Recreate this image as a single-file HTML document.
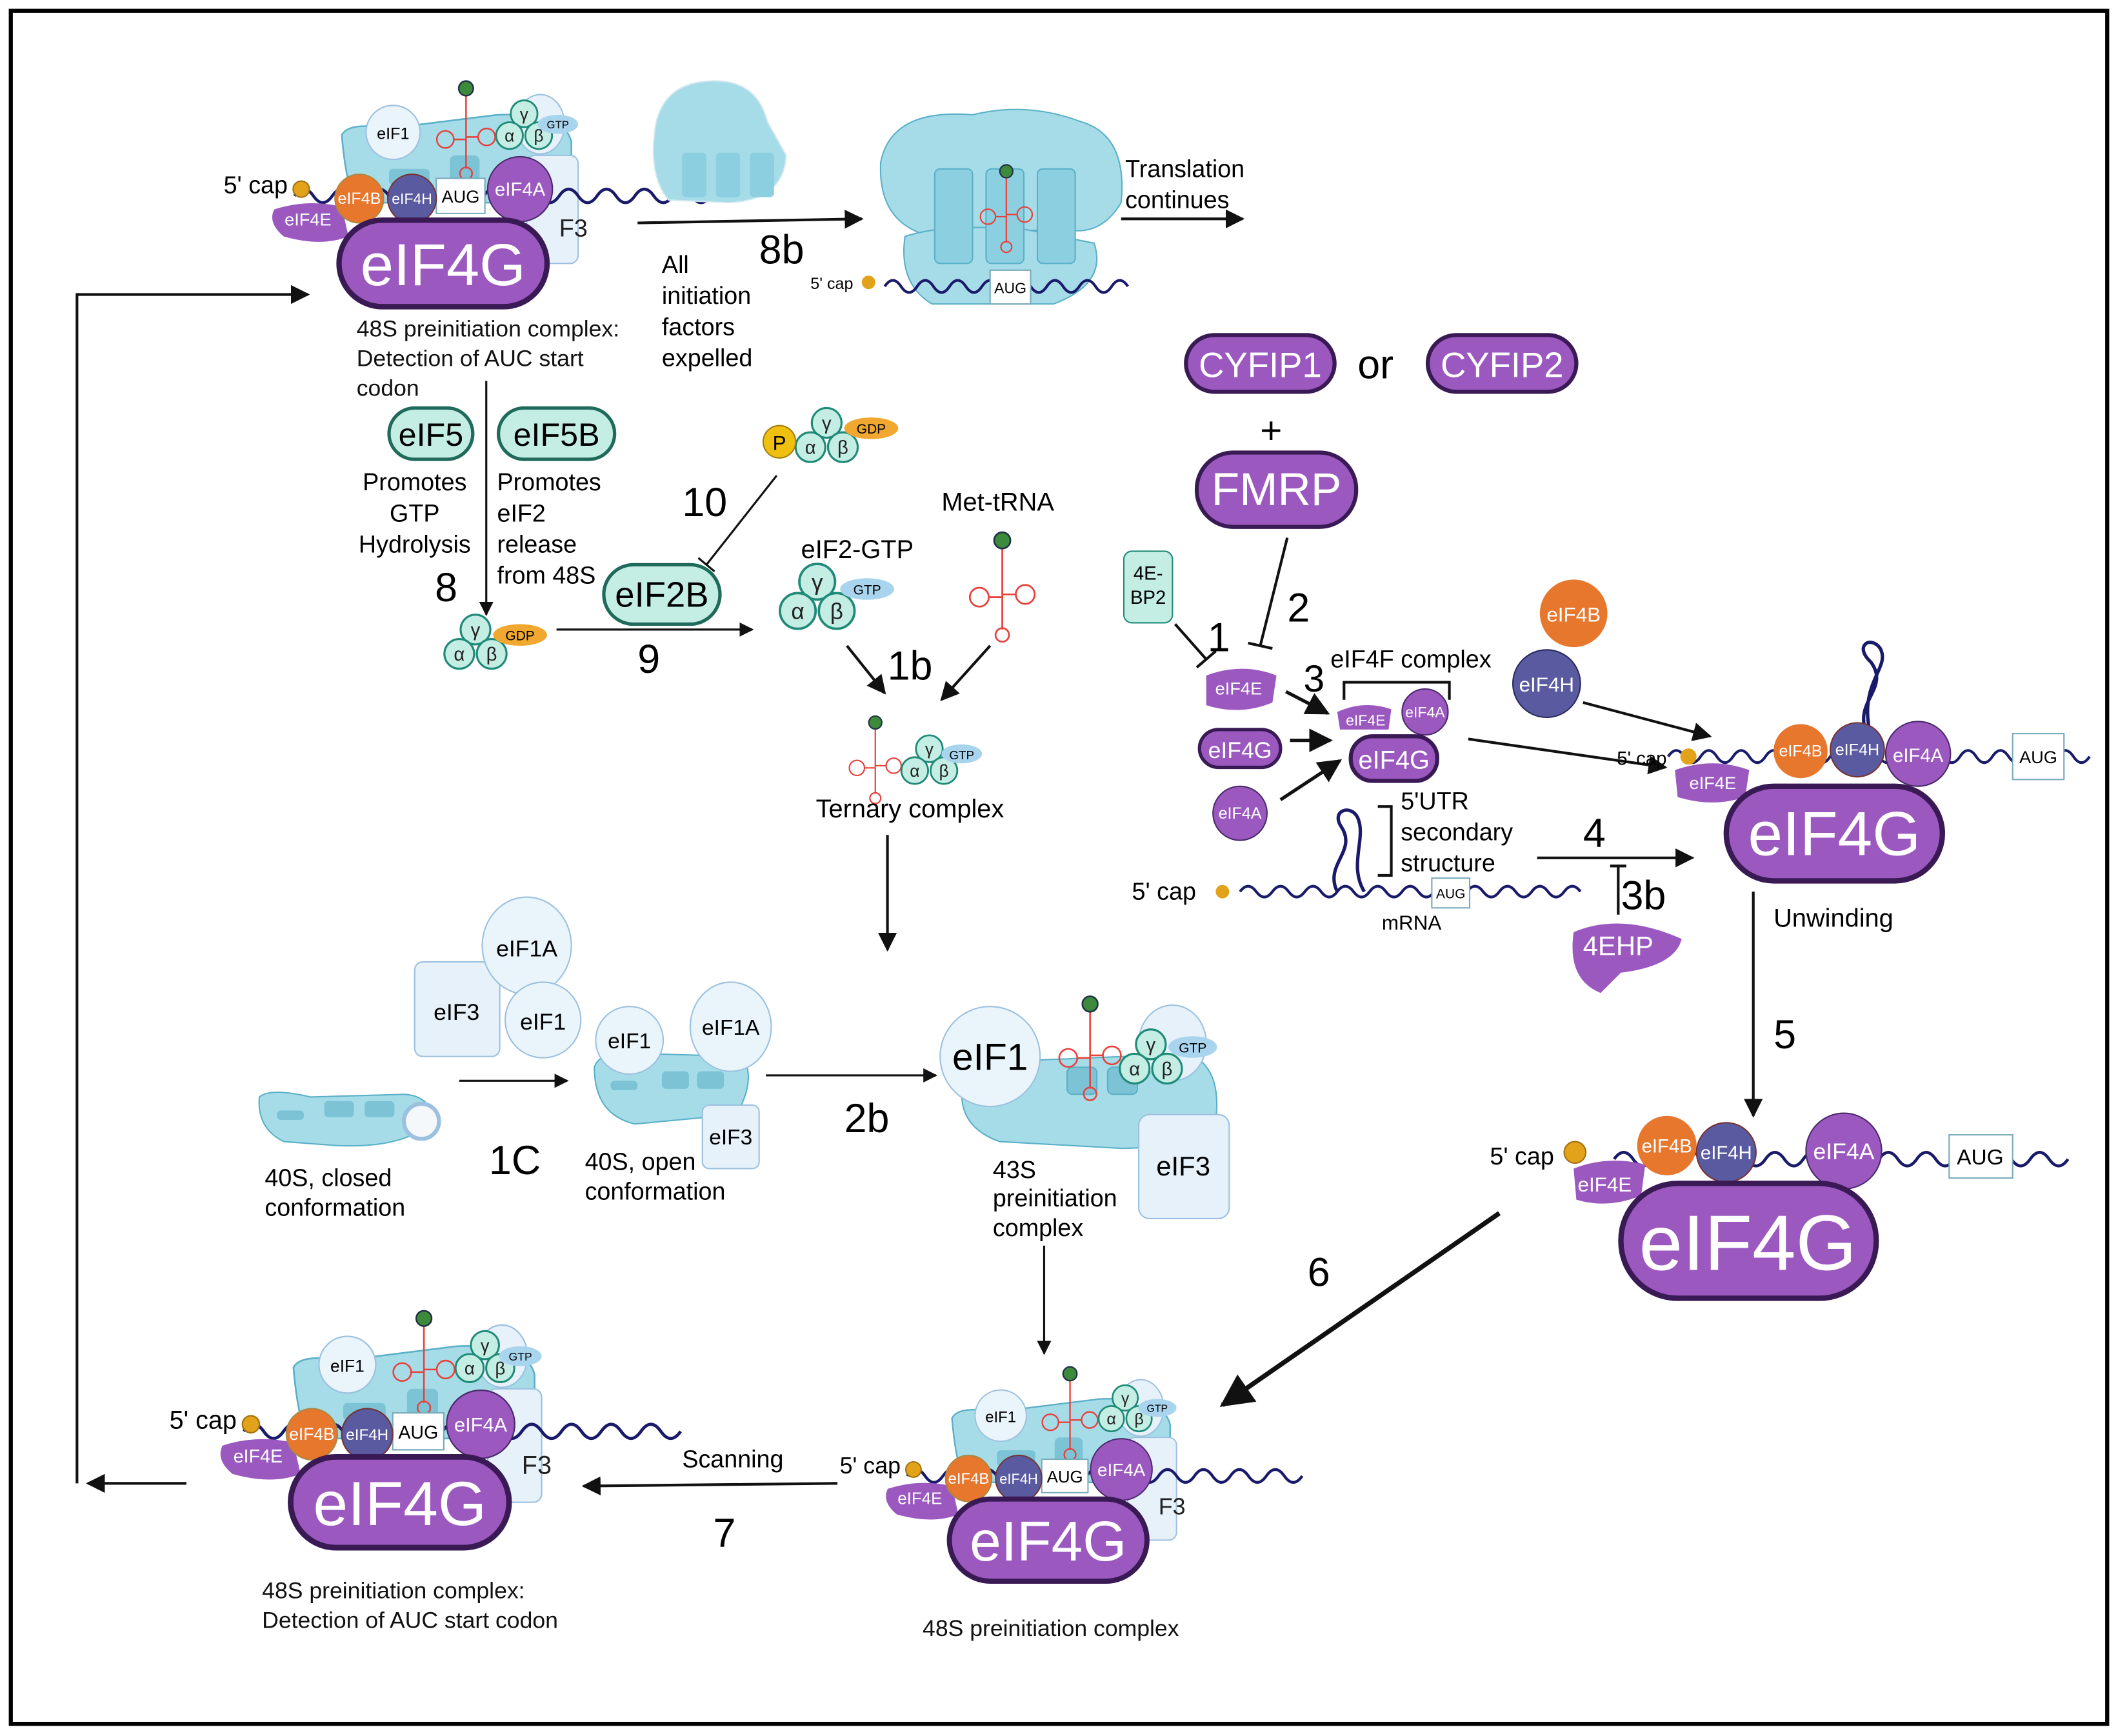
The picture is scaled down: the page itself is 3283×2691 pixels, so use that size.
<!DOCTYPE html>
<html><head><meta charset="utf-8"><style>
html,body{margin:0;padding:0;background:#fff}
svg{display:block}
text{font-family:"Liberation Sans",sans-serif}
</style></head><body>
<svg width="3283" height="2691" viewBox="0 0 1568 1285" preserveAspectRatio="none" xmlns="http://www.w3.org/2000/svg">
<defs>
<marker id="ah" viewBox="0 0 10 10" refX="9" refY="5" markerWidth="7" markerHeight="7" orient="auto-start-reverse"><path d="M0,0 L10,5 L0,10 z" fill="#111"/></marker>
<g id="tern">
<circle cx="0" cy="-12" r="11" fill="#c4eee4" stroke="#1f8a77" stroke-width="1.5"/>
<circle cx="-12" cy="6" r="11" fill="#c4eee4" stroke="#1f8a77" stroke-width="1.5"/>
<circle cx="12" cy="6" r="11" fill="#c4eee4" stroke="#1f8a77" stroke-width="1.5"/>
<text x="0" y="-7" font-size="14" text-anchor="middle" fill="#222">γ</text>
<text x="-12" y="11" font-size="14" text-anchor="middle" fill="#222">α</text>
<text x="12" y="11" font-size="14" text-anchor="middle" fill="#222">β</text>
</g>
<g id="trna" fill="none" stroke="#e8403a" stroke-width="1.3">
<line x1="0" y1="-38" x2="0" y2="22"/>
<circle cx="-17" cy="-2" r="7"/><circle cx="17" cy="-4" r="7"/>
<line x1="-10" y1="-2" x2="0" y2="-2"/><line x1="10" y1="-4" x2="0" y2="-4"/>
<circle cx="0" cy="26" r="5"/>
<circle cx="0" cy="-44" r="6" fill="#3d8a3d" stroke="#234"/>
</g>
<g id="c48">
<!-- ribosome -->
<path d="M-75,-95 Q-70,-105 -40,-100 L40,-110 Q90,-112 95,-90 L95,-45 L-65,-45 Q-72,-60 -75,-95 z" fill="#a6dce8" stroke="#5ab0c8" stroke-width="1.2"/>
<rect x="-40" y="-70" width="30" height="12" rx="3" fill="#7cc3d6"/>
<rect x="5" y="-80" width="22" height="25" rx="4" fill="#7cc3d6"/>
<rect x="62" y="-80" width="38" height="80" rx="6" fill="#e6f1fa" stroke="#9cc0e0"/>
<text x="86" y="-20" font-size="18" fill="#222">F3</text>
<ellipse cx="72" cy="-103" rx="18" ry="22" fill="#e6f1fa" stroke="#9cc0e0"/>
<circle cx="-37" cy="-97" r="20" fill="#eaf4fb" stroke="#9cc0e0"/>
<text x="-37" y="-92" font-size="12" text-anchor="middle">eIF1</text>
<use href="#trna" transform="translate(17,-90) scale(0.9)"/>
<use href="#tern" transform="translate(60,-100) scale(0.9)"/>
<ellipse cx="85" cy="-103" rx="15" ry="7" fill="#a9d4ee"/>
<text x="85" y="-100" font-size="8" text-anchor="middle">GTP</text>
<path d="M-110,-50 q7,-10 14,0 t14,0 t14,0 t14,0 t14,0 t14,0 t14,0 t14,0 t14,0 t14,0 t14,0 t14,0 t14,0 t14,0 t14,0 t14,0 t14,0 t14,0 t14,0 t14,0 t14,0 t14,0" fill="none" stroke="#1a1a6a" stroke-width="2.2"/>
<circle cx="-105" cy="-55" r="6" fill="#e2a21a" stroke="#a07010"/>
<text x="-115" y="-52" font-size="18" text-anchor="end">5' cap</text>
<path d="M-125,-40 Q-100,-48 -75,-42 L-70,-20 Q-90,-12 -118,-20 Q-130,-30 -125,-40 z" fill="#9b59c0"/>
<text x="-100" y="-28" font-size="13" fill="#fff" text-anchor="middle">eIF4E</text>
<path d="M-5,-63 h36 v26 h-36 z" fill="#fff" stroke="#7ab"/>
<text x="13" y="-45" font-size="13" text-anchor="middle">AUG</text>
<circle cx="-62" cy="-48" r="18" fill="#e8772e" stroke="#a84"/>
<text x="-62" y="-44" font-size="12" fill="#fff" text-anchor="middle">eIF4B</text>
<circle cx="-23" cy="-48" r="18" fill="#5a5aa0" stroke="#733"/>
<text x="-23" y="-44" font-size="11" fill="#fff" text-anchor="middle">eIF4H</text>
<circle cx="57" cy="-55" r="24" fill="#9b59c0" stroke="#4a2a6a"/>
<text x="57" y="-50" font-size="14" fill="#fff" text-anchor="middle">eIF4A</text>
<rect x="-77" y="-32" width="154" height="64" rx="32" fill="#9b59c0" stroke="#3a1a55" stroke-width="4"/>
<text x="0" y="16" font-size="44" fill="#fff" text-anchor="middle">eIF4G</text>
</g>
</defs>

<rect x="8" y="8" width="1552" height="1268" fill="#fff" stroke="#000" stroke-width="3"/>

<use href="#c48" transform="translate(328,195)"/>
<use href="#c48" transform="translate(296,1112) scale(1.05)"/>
<use href="#c48" transform="translate(776,1140) scale(0.95)"/>

<g font-size="17" fill="#111">
<text x="264" y="249">48S preinitiation complex:</text>
<text x="264" y="271">Detection of AUC start</text>
<text x="264" y="293">codon</text>
<text x="194" y="1183">48S preinitiation complex:</text>
<text x="194" y="1205">Detection of AUC start codon</text>
<text x="683" y="1211">48S preinitiation complex</text>
</g>

<!-- loop arrows -->
<path d="M138,1098 H65" fill="none" stroke="#111" stroke-width="2" marker-end="url(#ah)"/>
<path d="M57,1098 V218 H228" fill="none" stroke="#111" stroke-width="2" marker-end="url(#ah)"/>

<!-- 8b -->
<path d="M472,165 L638,162" stroke="#111" stroke-width="2" marker-end="url(#ah)"/>
<text x="562" y="195" font-size="30">8b</text>
<g font-size="18"><text x="490" y="202">All</text><text x="490" y="225">initiation</text><text x="490" y="248">factors</text><text x="490" y="271">expelled</text></g>
<path d="M485,95 Q490,62 525,60 Q560,58 568,90 L582,115 Q580,148 540,150 L495,148 Q480,130 485,95 z" fill="#a6dce8" stroke="#cfe8ef"/>
<rect x="505" y="113" width="18" height="33" rx="3" fill="#8ccfe0"/><rect x="530" y="113" width="18" height="33" rx="3" fill="#8ccfe0"/><rect x="555" y="113" width="18" height="33" rx="3" fill="#8ccfe0"/>
<!-- 80S -->
<path d="M652,120 Q660,80 720,85 Q760,75 800,90 Q835,100 830,150 Q815,175 790,170 L680,172 Q650,160 652,120 z" fill="#a6dce8" stroke="#5ab0c8"/>
<path d="M670,175 Q700,165 760,170 L810,180 Q820,210 780,225 L690,225 Q665,210 670,175 z" fill="#a6dce8" stroke="#5ab0c8"/>
<rect x="692" y="125" width="28" height="70" rx="4" fill="#8ccfe0" stroke="#5ab0c8"/><rect x="730" y="125" width="28" height="70" rx="4" fill="#8ccfe0" stroke="#5ab0c8"/><rect x="768" y="125" width="28" height="70" rx="4" fill="#8ccfe0" stroke="#5ab0c8"/>
<use href="#trna" transform="translate(745,162) scale(0.8)"/>
<path d="M655,212 q6,-9 12,0 t12,0 t12,0 t12,0 t12,0 t12,0 t12,0 t12,0 t12,0 t12,0 t12,0 t12,0 t12,0 t12,0 t12,0" fill="none" stroke="#1a1a6a" stroke-width="2"/>
<circle cx="643" cy="209" r="5" fill="#e2a21a"/><text x="600" y="214" font-size="12">5' cap</text>
<rect x="733" y="200" width="30" height="25" fill="#fff" stroke="#7ab"/><text x="748" y="217" font-size="11" text-anchor="middle">AUG</text>
<text x="833" y="131" font-size="18">Translation</text><text x="833" y="154" font-size="18">continues</text>
<path d="M830,162 L920,162" stroke="#111" stroke-width="2" marker-end="url(#ah)"/>

<!-- CYFIP / FMRP -->
<rect x="878" y="248" width="110" height="42" rx="21" fill="#9b59c0" stroke="#3a1a55" stroke-width="3"/><text x="933" y="279" font-size="26" fill="#fff" text-anchor="middle">CYFIP1</text>
<text x="1005" y="280" font-size="30">or</text>
<rect x="1057" y="248" width="110" height="42" rx="21" fill="#9b59c0" stroke="#3a1a55" stroke-width="3"/><text x="1112" y="279" font-size="26" fill="#fff" text-anchor="middle">CYFIP2</text>
<text x="941" y="328" font-size="28" text-anchor="middle">+</text>
<rect x="886" y="335" width="118" height="55" rx="27" fill="#9b59c0" stroke="#3a1a55" stroke-width="3"/><text x="945" y="374" font-size="34" fill="#fff" text-anchor="middle">FMRP</text>
<path d="M953,398 L933,478 M924,476 L942,480" stroke="#111" stroke-width="2"/>
<text x="953" y="460" font-size="30">2</text>
<rect x="832" y="408" width="36" height="53" rx="6" fill="#c4eee4" stroke="#1f8a77"/><text x="850" y="429" font-size="14" text-anchor="middle">4E-</text><text x="850" y="447" font-size="14" text-anchor="middle">BP2</text>
<path d="M870,462 L893,488 M886,494 L900,482" stroke="#111" stroke-width="2"/>
<text x="894" y="482" font-size="30">1</text>
<path d="M893,500 Q920,490 945,500 L942,520 Q918,530 893,522 z" fill="#9b59c0"/><text x="917" y="514" font-size="13" fill="#fff" text-anchor="middle">eIF4E</text>
<path d="M952,512 L983,528" stroke="#111" stroke-width="2.5" marker-end="url(#ah)"/>
<text x="965" y="512" font-size="28">3</text>
<text x="985" y="494" font-size="18">eIF4F complex</text>
<path d="M995,518 V505 H1073 V518" fill="none" stroke="#111" stroke-width="2"/>
<path d="M990,527 Q1010,518 1030,525 L1028,540 L992,540 z" fill="#9b59c0"/><text x="1011" y="537" font-size="11" fill="#fff" text-anchor="middle">eIF4E</text>
<circle cx="1055" cy="527" r="17" fill="#9b59c0" stroke="#4a2a6a"/><text x="1055" y="531" font-size="11" fill="#fff" text-anchor="middle">eIF4A</text>
<rect x="1000" y="545" width="64" height="33" rx="16" fill="#9b59c0" stroke="#3a1a55" stroke-width="3"/><text x="1032" y="569" font-size="19" fill="#fff" text-anchor="middle">eIF4G</text>
<rect x="888" y="540" width="60" height="28" rx="14" fill="#9b59c0" stroke="#3a1a55" stroke-width="2.5"/><text x="918" y="561" font-size="17" fill="#fff" text-anchor="middle">eIF4G</text>
<path d="M955,548 L985,548" stroke="#111" stroke-width="2.5" marker-end="url(#ah)"/>
<circle cx="918" cy="602" r="20" fill="#9b59c0" stroke="#4a2a6a"/><text x="918" y="606" font-size="12" fill="#fff" text-anchor="middle">eIF4A</text>
<path d="M948,592 L992,563" stroke="#111" stroke-width="2.5" marker-end="url(#ah)"/>
<path d="M1087,547 L1233,568" stroke="#111" stroke-width="2" marker-end="url(#ah)"/>

<circle cx="1165" cy="454" r="25" fill="#e8772e"/><text x="1165" y="460" font-size="15" fill="#fff" text-anchor="middle">eIF4B</text>
<circle cx="1145" cy="506" r="25" fill="#5a5aa0" stroke="#2a2a60"/><text x="1145" y="512" font-size="15" fill="#fff" text-anchor="middle">eIF4H</text>
<path d="M1172,520 L1266,545" stroke="#111" stroke-width="2" marker-end="url(#ah)"/>

<!-- right complex -->
<path d="M1235,560 q6,-9 12,0 t12,0 t12,0 t12,0 t12,0 t12,0 t12,0 t12,0 t12,0 t12,0 t12,0 t12,0 t12,0 t12,0 t12,0 t12,0 t12,0 t12,0 t12,0 t12,0 t12,0 t12,0 t12,0 t12,0 t12,0 t12,0" fill="none" stroke="#1a1a6a" stroke-width="2"/>
<path d="M1383,545 C1370,520 1400,510 1385,490 C1372,478 1385,470 1392,480 C1400,495 1375,505 1385,545" fill="none" stroke="#1a1a6a" stroke-width="2.5"/>
<circle cx="1250" cy="560" r="6" fill="#e2a21a"/><text x="1197" y="566" font-size="14">5' cap</text>
<path d="M1240,570 Q1268,560 1295,570 L1292,590 Q1268,598 1242,590 z" fill="#9b59c0"/><text x="1268" y="584" font-size="13" fill="#fff" text-anchor="middle">eIF4E</text>
<circle cx="1333" cy="556" r="20" fill="#e8772e"/><text x="1333" y="560" font-size="12" fill="#fff" text-anchor="middle">eIF4B</text>
<circle cx="1375" cy="555" r="20" fill="#5a5aa0" stroke="#733"/><text x="1375" y="559" font-size="12" fill="#fff" text-anchor="middle">eIF4H</text>
<circle cx="1420" cy="558" r="24" fill="#9b59c0" stroke="#4a2a6a"/><text x="1420" y="564" font-size="14" fill="#fff" text-anchor="middle">eIF4A</text>
<rect x="1490" y="543" width="38" height="34" fill="#fff" stroke="#7ab"/><text x="1509" y="565" font-size="13" text-anchor="middle">AUG</text>
<rect x="1278" y="582" width="160" height="70" rx="35" fill="#9b59c0" stroke="#3a1a55" stroke-width="4"/><text x="1358" y="633" font-size="46" fill="#fff" text-anchor="middle">eIF4G</text>

<!-- mRNA with hairpin -->
<text x="838" y="666" font-size="18">5' cap</text><circle cx="905" cy="660" r="5" fill="#e2a21a"/>
<path d="M918,660 q6,-8 12,0 t12,0 t12,0 t12,0 t12,0 t12,0 t12,0 t12,0 t12,0 t12,0 t12,0 t12,0 t12,0 t12,0 t12,0 t12,0 t12,0 t12,0 t12,0 t12,0 t12,0" fill="none" stroke="#1a1a6a" stroke-width="2"/>
<path d="M990,660 C980,640 1005,630 993,612 C985,600 1000,595 1005,605 C1012,620 998,640 1010,660" fill="none" stroke="#1a1a6a" stroke-width="2.5"/>
<path d="M1020,597 H1030 V648 H1020" fill="none" stroke="#111" stroke-width="2"/>
<g font-size="18"><text x="1037" y="599">5'UTR</text><text x="1037" y="622">secondary</text><text x="1037" y="645">structure</text></g>
<rect x="1060" y="650" width="28" height="22" fill="#fff" stroke="#7ab"/><text x="1074" y="665" font-size="10" text-anchor="middle">AUG</text>
<text x="1023" y="688" font-size="15">mRNA</text>
<path d="M1138,635 L1253,635" stroke="#111" stroke-width="2" marker-end="url(#ah)"/>
<text x="1172" y="627" font-size="30">4</text>
<path d="M1198,677 V641 M1192,641 H1204" stroke="#111" stroke-width="2"/>
<text x="1200" y="673" font-size="30">3b</text>
<path d="M1165,690 Q1200,675 1245,695 Q1240,715 1200,720 L1185,735 Q1160,725 1165,690 z" fill="#9b59c0"/><text x="1198" y="707" font-size="20" fill="#fff" text-anchor="middle">4EHP</text>
<text x="1313" y="686" font-size="19">Unwinding</text>
<path d="M1298,660 L1298,826" stroke="#111" stroke-width="2" marker-end="url(#ah)"/>
<text x="1313" y="776" font-size="30">5</text>

<!-- lower right complex -->
<path d="M1195,858 q7,-10 14,0 t14,0 t14,0 t14,0 t14,0 t14,0 t14,0 t14,0 t14,0 t14,0 t14,0 t14,0 t14,0 t14,0 t14,0 t14,0 t14,0 t14,0 t14,0 t14,0 t14,0 t14,0 t14,0 t14,0" fill="none" stroke="#1a1a6a" stroke-width="2.2"/>
<circle cx="1166" cy="853" r="8" fill="#e2a21a" stroke="#a07010"/><text x="1103" y="862" font-size="18">5' cap</text>
<path d="M1165,865 Q1190,855 1218,862 L1215,885 Q1190,895 1167,888 z" fill="#9b59c0"/><text x="1188" y="882" font-size="15" fill="#fff" text-anchor="middle">eIF4E</text>
<circle cx="1234" cy="848" r="22" fill="#e8772e"/><text x="1234" y="853" font-size="14" fill="#fff" text-anchor="middle">eIF4B</text>
<circle cx="1278" cy="853" r="22" fill="#5a5aa0" stroke="#733"/><text x="1278" y="858" font-size="14" fill="#fff" text-anchor="middle">eIF4H</text>
<circle cx="1365" cy="852" r="28" fill="#9b59c0" stroke="#4a2a6a"/><text x="1365" y="858" font-size="17" fill="#fff" text-anchor="middle">eIF4A</text>
<rect x="1443" y="840" width="47" height="32" fill="#fff" stroke="#7ab"/><text x="1466" y="862" font-size="16" text-anchor="middle">AUG</text>
<rect x="1200" y="876" width="189" height="85" rx="42" fill="#9b59c0" stroke="#3a1a55" stroke-width="4"/><text x="1294" y="940" font-size="58" fill="#fff" text-anchor="middle">eIF4G</text>
<path d="M1110,898 L905,1040" stroke="#111" stroke-width="3.5" marker-end="url(#ah)"/>
<text x="968" y="952" font-size="30">6</text>

<!-- eIF5 section -->
<rect x="288" y="302" width="62" height="38" rx="19" fill="#c4eee4" stroke="#1f6a5a" stroke-width="2.5"/><text x="319" y="330" font-size="24" text-anchor="middle">eIF5</text>
<rect x="369" y="302" width="86" height="38" rx="19" fill="#c4eee4" stroke="#1f6a5a" stroke-width="2.5"/><text x="412" y="330" font-size="24" text-anchor="middle">eIF5B</text>
<g font-size="18" text-anchor="middle"><text x="307" y="363">Promotes</text><text x="307" y="386">GTP</text><text x="307" y="409">Hydrolysis</text></g>
<g font-size="18"><text x="368" y="363">Promotes</text><text x="368" y="386">eIF2</text><text x="368" y="409">release</text><text x="368" y="432">from 48S</text></g>
<path d="M360,282 L360,455" stroke="#111" stroke-width="1.5" marker-end="url(#ah)"/>
<text x="322" y="445" font-size="30">8</text>
<use href="#tern" transform="translate(352,478)"/>
<ellipse cx="385" cy="470" rx="20" ry="8" fill="#f0a830"/><text x="385" y="474" font-size="10" text-anchor="middle">GDP</text>
<path d="M412,466 L557,466" stroke="#111" stroke-width="1.5" marker-end="url(#ah)"/>
<text x="472" y="498" font-size="30">9</text>
<rect x="447" y="418" width="86" height="44" rx="22" fill="#c4eee4" stroke="#1f6a5a" stroke-width="2.5"/><text x="490" y="449" font-size="26" text-anchor="middle">eIF2B</text>
<text x="505" y="382" font-size="30">10</text>
<use href="#tern" transform="translate(612,325)"/>
<circle cx="577" cy="327" r="12" fill="#f0c010" stroke="#a08010"/><text x="577" y="333" font-size="15" text-anchor="middle">P</text>
<ellipse cx="645" cy="317" rx="20" ry="8" fill="#f0a830"/><text x="645" y="321" font-size="10" text-anchor="middle">GDP</text>
<path d="M575,352 L523,418 M517,413 L529,423" stroke="#111" stroke-width="1.5"/>
<text x="593" y="413" font-size="19">eIF2-GTP</text>
<use href="#tern" transform="translate(605,445) scale(1.2)"/>
<ellipse cx="642" cy="436" rx="20" ry="8" fill="#a9d4ee"/><text x="642" y="440" font-size="10" text-anchor="middle">GTP</text>
<text x="697" y="378" font-size="19">Met-tRNA</text>
<use href="#trna" transform="translate(742,444) scale(1)"/>
<path d="M627,478 L655,513" stroke="#111" stroke-width="2" marker-end="url(#ah)"/>
<path d="M733,478 L697,518" stroke="#111" stroke-width="2" marker-end="url(#ah)"/>
<text x="657" y="503" font-size="30">1b</text>
<use href="#trna" transform="translate(648,570) scale(0.8)"/>
<use href="#tern" transform="translate(688,565) scale(0.9)"/>
<ellipse cx="712" cy="558" rx="15" ry="7" fill="#a9d4ee"/><text x="712" y="562" font-size="9" text-anchor="middle">GTP</text>
<text x="604" y="605" font-size="19">Ternary complex</text>
<path d="M657,618 L657,703" stroke="#111" stroke-width="2" marker-end="url(#ah)"/>

<!-- 1C -->
<rect x="307" y="712" width="63" height="70" rx="6" fill="#e6f1fa" stroke="#9cc0e0"/><text x="338" y="755" font-size="17" text-anchor="middle">eIF3</text>
<ellipse cx="390" cy="700" rx="33" ry="36" fill="#eaf4fb" stroke="#9cc0e0"/><text x="390" y="708" font-size="17" text-anchor="middle">eIF1A</text>
<circle cx="402" cy="755" r="28" fill="#eaf4fb" stroke="#9cc0e0"/><text x="402" y="762" font-size="17" text-anchor="middle">eIF1</text>
<path d="M192,812 Q200,805 230,812 L300,810 Q320,812 320,830 Q300,850 250,848 L210,845 Q190,835 192,812 z" fill="#a6dce8" stroke="#5ab0c8"/>
<rect x="205" y="822" width="20" height="7" rx="3" fill="#7cc3d6"/><rect x="240" y="815" width="22" height="12" rx="3" fill="#7cc3d6"/><rect x="270" y="815" width="22" height="12" rx="3" fill="#7cc3d6"/>
<circle cx="312" cy="830" r="13" fill="#f4f8fb" stroke="#9cc0e0" stroke-width="3"/>
<path d="M340,800 L420,800" stroke="#111" stroke-width="1.5" marker-end="url(#ah)"/>
<text x="362" y="869" font-size="30">1C</text>
<g font-size="18"><text x="196" y="878">40S, closed</text><text x="196" y="900">conformation</text>
<text x="433" y="866">40S, open</text><text x="433" y="888">conformation</text></g>
<path d="M440,790 Q445,775 480,780 L550,782 Q560,800 545,825 L470,832 Q440,825 440,790 z" fill="#a6dce8" stroke="#5ab0c8"/>
<rect x="452" y="800" width="20" height="7" rx="3" fill="#7cc3d6"/><rect x="490" y="793" width="20" height="13" rx="3" fill="#7cc3d6"/><rect x="516" y="793" width="20" height="13" rx="3" fill="#7cc3d6"/>
<circle cx="466" cy="770" r="25" fill="#eaf4fb" stroke="#9cc0e0"/><text x="466" y="776" font-size="16" text-anchor="middle">eIF1</text>
<ellipse cx="541" cy="760" rx="30" ry="33" fill="#eaf4fb" stroke="#9cc0e0"/><text x="541" y="766" font-size="16" text-anchor="middle">eIF1A</text>
<rect x="520" y="818" width="42" height="47" rx="5" fill="#e6f1fa" stroke="#9cc0e0"/><text x="541" y="847" font-size="16" text-anchor="middle">eIF3</text>
<path d="M567,796 L693,796" stroke="#111" stroke-width="1.5" marker-end="url(#ah)"/>
<text x="625" y="838" font-size="30">2b</text>

<!-- 43S -->
<path d="M712,810 Q715,780 760,785 L880,780 Q905,790 900,830 Q880,850 830,850 L740,845 Q712,835 712,810 z" fill="#a6dce8" stroke="#5ab0c8"/>
<rect x="790" y="790" width="22" height="20" rx="4" fill="#7cc3d6" stroke="#5ab0c8"/><rect x="820" y="790" width="22" height="20" rx="4" fill="#7cc3d6" stroke="#5ab0c8"/>
<ellipse cx="868" cy="772" rx="25" ry="28" fill="#e6f1fa" stroke="#9cc0e0"/>
<circle cx="733" cy="782" r="37" fill="#eaf4fb" stroke="#9cc0e0"/><text x="733" y="792" font-size="28" text-anchor="middle">eIF1</text>
<use href="#trna" transform="translate(807,785) scale(0.95)"/>
<use href="#tern" transform="translate(852,785)"/>
<ellipse cx="883" cy="775" rx="18" ry="8" fill="#a9d4ee"/><text x="883" y="779" font-size="10" text-anchor="middle">GTP</text>
<rect x="843" y="825" width="67" height="77" rx="8" fill="#e6f1fa" stroke="#9cc0e0"/><text x="876" y="870" font-size="20" text-anchor="middle">eIF3</text>
<g font-size="18"><text x="735" y="872">43S</text><text x="735" y="893">preinitiation</text><text x="735" y="915">complex</text></g>
<path d="M773,922 L773,1002" stroke="#111" stroke-width="1.5" marker-end="url(#ah)"/>

<!-- scanning -->
<path d="M620,1098 L432,1100" stroke="#111" stroke-width="2" marker-end="url(#ah)"/>
<text x="505" y="1086" font-size="18">Scanning</text>
<text x="528" y="1145" font-size="30">7</text>
</svg>
</body></html>
